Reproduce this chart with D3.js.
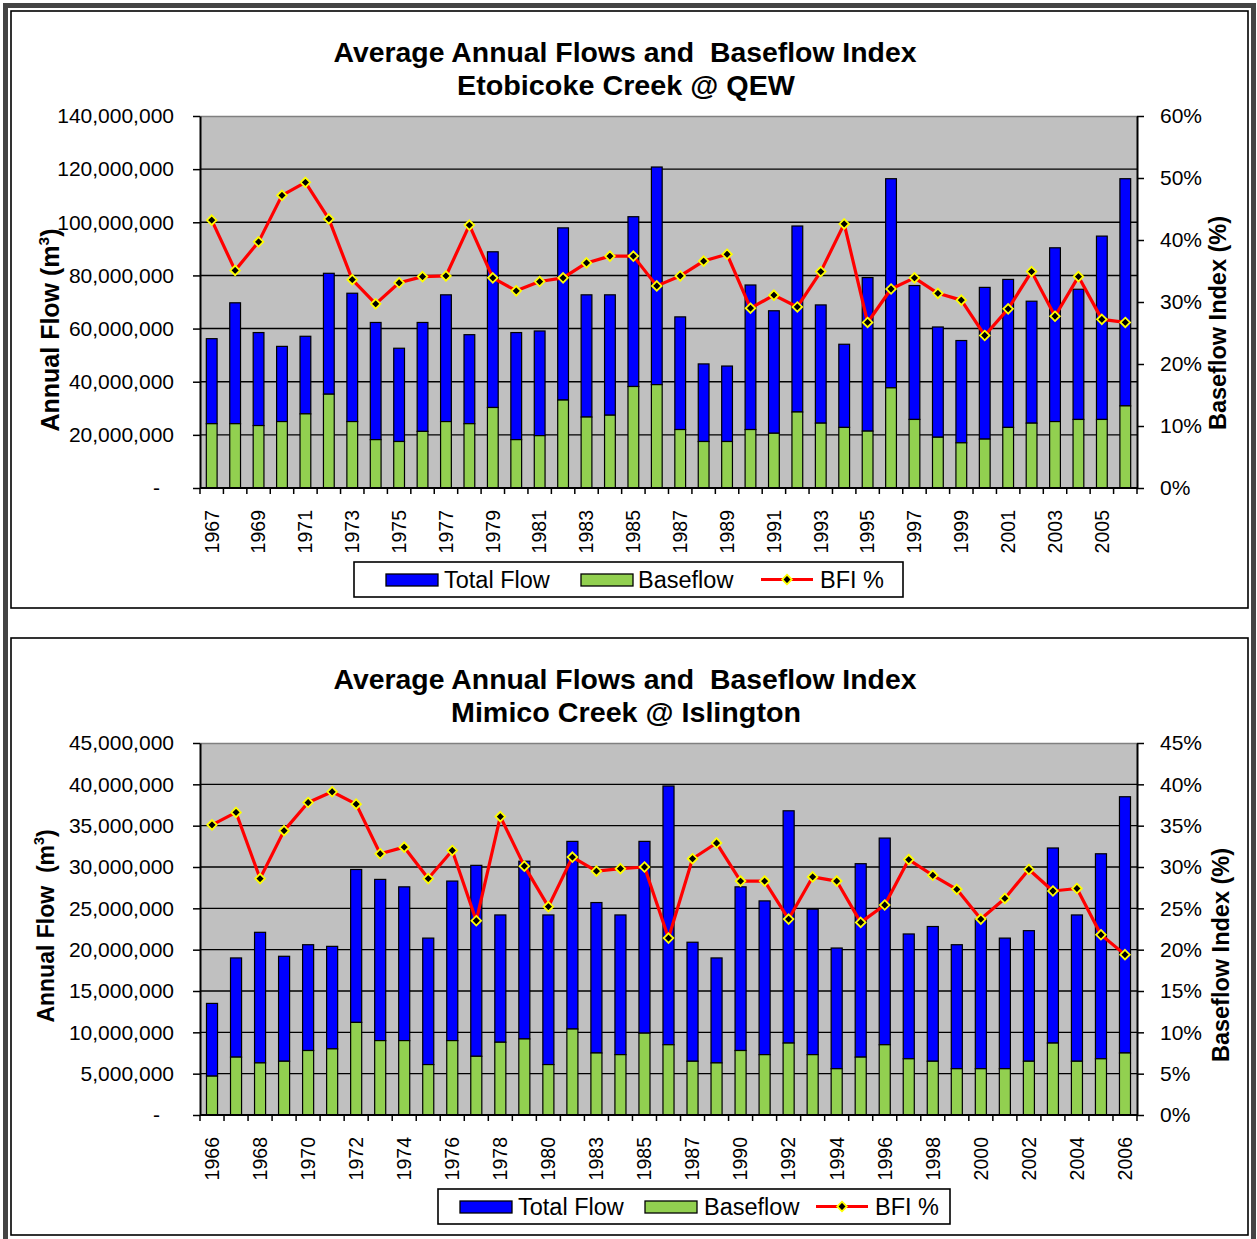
<!DOCTYPE html>
<html><head><meta charset="utf-8">
<script src="https://cdn.jsdelivr.net/npm/d3@7"></script>
<style>
html,body{margin:0;padding:0;background:#fff;}
svg{display:block;font-family:"Liberation Sans",Arial,sans-serif;}
svg text{white-space:pre;}
</style></head>
<body><svg id="c" width="1257" height="1239"></svg>
<script>
// ---------- DATA ----------
const etobicokeYears = ["1967","1968","1969","1970","1971","1972","1973","1974","1975","1976","1977","1978","1979","1980","1981","1982","1983","1984","1985","1986","1987","1988","1989","1990","1991","1992","1993","1994","1995","1996","1997","1998","1999","2000","2001","2002","2003","2004","2005","2006"];
const etobicokeTotal = [56.2,69.7,58.5,53.3,57.1,80.8,73.3,62.3,52.6,62.3,72.7,57.7,88.9,58.5,59.1,97.9,72.7,72.7,102.1,120.8,64.4,46.7,45.9,76.4,66.7,98.6,68.9,54.1,79.2,116.4,76.2,60.6,55.5,75.5,78.5,70.3,90.4,74.8,94.8,116.4]; // million m3
const etobicokeBase = [24.2,24.2,23.5,25.0,27.9,35.3,25.0,18.2,17.5,21.3,25.0,24.2,30.3,18.2,19.7,33.1,26.7,27.4,38.2,38.9,22.0,17.5,17.5,22.0,20.6,28.6,24.4,22.8,21.4,37.7,25.8,19.1,17.0,18.4,22.8,24.4,25.0,25.8,25.8,30.9]; // million m3
const etobicokeBFI = [43.2,35.1,39.7,47.2,49.3,43.4,33.6,29.7,33.1,34.1,34.2,42.4,33.9,31.8,33.3,33.9,36.3,37.4,37.4,32.6,34.2,36.6,37.7,29.0,31.1,29.2,34.9,42.6,26.7,32.1,33.9,31.4,30.3,24.6,28.9,34.9,27.7,34.1,27.2,26.7]; // %

const mimicoYears = ["1966","1967","1968","1969","1970","1971","1972","1973","1974","1975","1976","1977","1978","1979","1980","1981","1983","1984","1985","1986","1987","1989","1990","1991","1992","1993","1994","1995","1996","1997","1998","1999","2000","2001","2002","2003","2004","2005","2006"];
const mimicoTotal = [13.5,19.0,22.1,19.2,20.6,20.4,29.7,28.5,27.6,21.4,28.3,30.2,24.2,30.7,24.2,33.1,25.7,24.2,33.1,39.8,20.9,19.0,27.6,25.9,36.8,24.9,20.2,30.4,33.5,21.9,22.8,20.6,23.7,21.4,22.3,32.3,24.2,31.6,38.5];
const mimicoBase = [4.7,7.0,6.3,6.5,7.8,8.0,11.2,9.0,9.0,6.1,9.0,7.1,8.8,9.2,6.1,10.4,7.5,7.3,9.9,8.5,6.5,6.3,7.8,7.3,8.7,7.3,5.6,7.0,8.5,6.8,6.5,5.6,5.6,5.6,6.5,8.7,6.5,6.8,7.5];
const mimicoBFI = [35.1,36.6,28.6,34.4,37.8,39.1,37.6,31.6,32.4,28.6,32.0,23.5,36.1,30.1,25.2,31.2,29.5,29.8,30.0,21.4,31.0,32.9,28.3,28.3,23.7,28.8,28.3,23.3,25.4,30.9,29.0,27.3,23.7,26.2,29.7,27.1,27.4,21.8,19.4];

const etobicokeFlowTicks = [0,20e6,40e6,60e6,80e6,100e6,120e6,140e6];
const etobicokeBFITicks = [0,10,20,30,40,50,60];
const mimicoFlowTicks = [0,5e6,10e6,15e6,20e6,25e6,30e6,35e6,40e6,45e6];
const mimicoBFITicks = [0,5,10,15,20,25,30,35,40,45];

const titleLine1 = "Average Annual Flows and  Baseflow Index";
const etobicokeTitle2 = "Etobicoke Creek @ QEW";
const mimicoTitle2 = "Mimico Creek @ Islington";
const legendLabels = ["Total Flow","Baseflow","BFI %"];

// ---------- DRAW ----------
const svg = d3.select("#c");
const COL_TOTAL = "#0000FF", COL_BASE = "#92D050", COL_LINE = "#FF0000";

// outer frame
svg.append("rect").attr("x",5.5).attr("y",5.5).attr("width",1248).attr("height",1236)
  .attr("fill","none").attr("stroke","#444").attr("stroke-width",5);

const fmtFlow = v => v === 0 ? "-" : d3.format(",")(v);
const diamond = r => `M0,${-r}L${r},0L0,${r}L${-r},0Z`;

function drawChart(o){
  const g = svg.append("g").attr("transform",`translate(0,${o.dy})`);
  // panel border
  g.append("rect").attr("x",11).attr("y",11).attr("width",1237).attr("height",597)
    .attr("fill","#fff").attr("stroke","#000").attr("stroke-width",1.6);

  const L=200, R=1137, T=116, B=488;
  const x = d3.scaleBand().domain(o.years).range([L,R]).paddingInner(0.54).paddingOuter(0.27);
  const y = d3.scaleLinear().domain([0,o.flowMax]).range([B,T]);
  const y2 = d3.scaleLinear().domain([0,o.bfiMax]).range([B,T]);
  const step = x.step();
  const cx = d => x(d) + x.bandwidth()/2;

  // plot background
  g.append("rect").attr("x",L).attr("y",T).attr("width",R-L).attr("height",B-T).attr("fill","#C0C0C0");
  g.append("line").attr("x1",L).attr("x2",R).attr("y1",T+0.5).attr("y2",T+0.5).attr("stroke","#808080").attr("stroke-width",1.5);
  // gridlines
  g.append("g").selectAll("line").data(o.flowTicks.filter(t=>t>0 && t<o.flowMax)).join("line")
    .attr("x1",L).attr("x2",R).attr("y1",d=>y(d)).attr("y2",d=>y(d))
    .attr("stroke","#000").attr("stroke-width",1.4);

  // bars
  const data = o.years.map((yr,i)=>({yr,total:o.total[i]*1e6,base:o.base[i]*1e6,bfi:o.bfi[i]}));
  g.append("g").selectAll("rect").data(data).join("rect")
    .attr("x",d=>x(d.yr)).attr("width",x.bandwidth())
    .attr("y",d=>y(d.total)).attr("height",d=>y(d.base)-y(d.total))
    .attr("fill",COL_TOTAL).attr("stroke","#000").attr("stroke-width",1.2);
  g.append("g").selectAll("rect").data(data).join("rect")
    .attr("x",d=>x(d.yr)).attr("width",x.bandwidth())
    .attr("y",d=>y(d.base)).attr("height",d=>B-y(d.base))
    .attr("fill",COL_BASE).attr("stroke","#000").attr("stroke-width",1.2);

  // line
  const line = d3.line().x(d=>cx(d.yr)).y(d=>y2(d.bfi));
  g.append("path").datum(data).attr("d",line).attr("fill","none")
    .attr("stroke",COL_LINE).attr("stroke-width",3.2).attr("stroke-linejoin","round");
  g.append("g").selectAll("path").data(data).join("path")
    .attr("transform",d=>`translate(${cx(d.yr)},${y2(d.bfi)})`)
    .attr("d",diamond(4.8)).attr("fill","#000").attr("stroke","#FFFF00").attr("stroke-width",1.8);

  // left axis
  const axL = g.append("g").attr("transform",`translate(${L},0)`)
    .call(d3.axisLeft(y).tickValues(o.flowTicks).tickFormat(fmtFlow).tickSize(7).tickSizeOuter(0));
  axL.select(".domain").attr("stroke","#000").attr("stroke-width",2);
  axL.selectAll(".tick line").attr("stroke","#000").attr("stroke-width",1.5);
  axL.selectAll(".tick text").attr("font-size","21px").attr("fill","#000")
    .attr("x",d=>d===0?-40:-26).attr("font-family","Liberation Sans, Arial, sans-serif");
  // right axis
  const axR = g.append("g").attr("transform",`translate(${R},0)`)
    .call(d3.axisRight(y2).tickValues(o.bfiTicks).tickFormat(d=>d+"%").tickSize(7).tickSizeOuter(0));
  axR.select(".domain").attr("stroke","#000").attr("stroke-width",2);
  axR.selectAll(".tick line").attr("stroke","#000").attr("stroke-width",1.5);
  axR.selectAll(".tick text").attr("font-size","21px").attr("fill","#000").attr("x",23)
    .attr("font-family","Liberation Sans, Arial, sans-serif");
  // bottom axis
  g.append("line").attr("x1",L).attr("x2",R).attr("y1",B).attr("y2",B).attr("stroke","#000").attr("stroke-width",2);
  g.append("g").selectAll("line").data(d3.range(o.years.length+1)).join("line")
    .attr("x1",i=>L+i*step).attr("x2",i=>L+i*step).attr("y1",B).attr("y2",B+6)
    .attr("stroke","#000").attr("stroke-width",1.5);
  g.append("g").selectAll("text").data(o.years.filter((d,i)=>i%2===0)).join("text")
    .attr("transform",d=>`translate(${cx(d)},${B+22}) rotate(-90)`)
    .attr("text-anchor","end").attr("dy","0.35em").attr("font-size","19.5px").text(d=>d);

  // titles
  g.append("text").attr("x",625).attr("y",62).attr("text-anchor","middle").attr("font-weight","bold")
    .attr("font-size","27px").attr("textLength",583).attr("lengthAdjust","spacingAndGlyphs").text(titleLine1);
  g.append("text").attr("x",626).attr("y",95).attr("text-anchor","middle").attr("font-weight","bold")
    .attr("font-size","27px").attr("textLength",o.t2w).attr("lengthAdjust","spacingAndGlyphs").text(o.title2);

  const yt = g.append("text").attr("transform",`translate(${o.ytX},${o.ytY}) rotate(-90)`)
    .attr("text-anchor","middle").attr("font-weight","bold").attr("font-size",o.ytSize+"px");
  yt.append("tspan").text(o.ytLabel);
  yt.append("tspan").attr("font-size",(o.ytSize*0.62)+"px").attr("dy","-10").text("3");
  yt.append("tspan").attr("dy","10").text(")");

  g.append("text").attr("transform",`translate(${o.y2tX},${o.y2tY}) rotate(-90)`)
    .attr("text-anchor","middle").attr("font-weight","bold").attr("font-size","23.5px")
    .attr("dy","0.35em").text("Baseflow Index (%)");

  // legend
  const lg = o.legend;
  g.append("rect").attr("x",lg.x).attr("y",562).attr("width",lg.w).attr("height",35)
    .attr("fill","#fff").attr("stroke","#000").attr("stroke-width",1.6);
  g.append("rect").attr("x",lg.s1).attr("y",574).attr("width",lg.sw).attr("height",12)
    .attr("fill",COL_TOTAL).attr("stroke","#000").attr("stroke-width",1.3);
  g.append("rect").attr("x",lg.s2).attr("y",574).attr("width",lg.sw).attr("height",12)
    .attr("fill",COL_BASE).attr("stroke","#000").attr("stroke-width",1.3);
  g.append("line").attr("x1",lg.s3).attr("x2",lg.s3+lg.sw).attr("y1",579.5).attr("y2",579.5)
    .attr("stroke",COL_LINE).attr("stroke-width",3.2);
  g.append("path").attr("transform",`translate(${lg.s3+lg.sw/2},579.5)`).attr("d",diamond(4.8))
    .attr("fill","#000").attr("stroke","#FFFF00").attr("stroke-width",1.8);
  [lg.t1,lg.t2,lg.t3].forEach((tx,i)=>{
    g.append("text").attr("x",tx).attr("y",588).attr("font-size","23.5px").text(legendLabels[i]);
  });
}

drawChart({dy:0, years:etobicokeYears, total:etobicokeTotal, base:etobicokeBase, bfi:etobicokeBFI,
  flowMax:140e6, bfiMax:60, flowTicks:etobicokeFlowTicks, bfiTicks:etobicokeBFITicks,
  title2:etobicokeTitle2, t2w:338, ytX:59, ytY:330, ytSize:25, ytLabel:"Annual Flow (m", y2tX:1218, y2tY:323,
  legend:{x:354,w:549,s1:386,s2:581,s3:761,sw:52,t1:444,t2:638,t3:820}});
drawChart({dy:627, years:mimicoYears, total:mimicoTotal, base:mimicoBase, bfi:mimicoBFI,
  flowMax:45e6, bfiMax:45, flowTicks:mimicoFlowTicks, bfiTicks:mimicoBFITicks,
  title2:mimicoTitle2, t2w:350, ytX:54, ytY:299, ytSize:23, ytLabel:"Annual Flow  (m", y2tX:1221, y2tY:328,
  legend:{x:438,w:512,s1:460,s2:645,s3:816,sw:52,t1:518,t2:704,t3:875}});
</script></body></html>
